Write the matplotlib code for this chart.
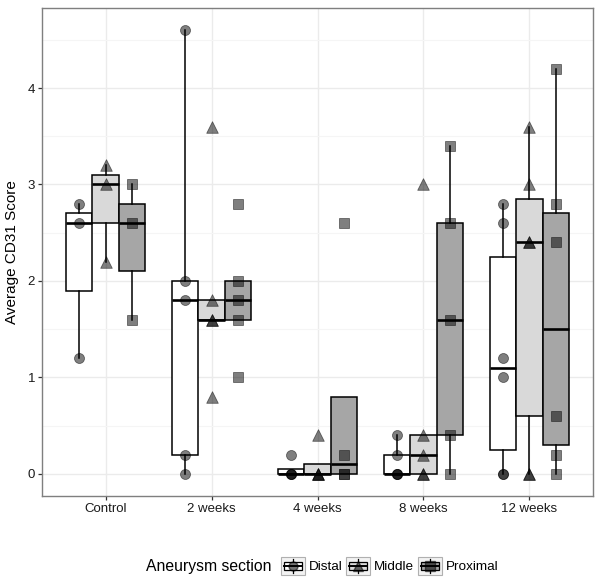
import numpy as np
import matplotlib
matplotlib.use("Agg")
import matplotlib.pyplot as plt
from matplotlib.patches import Rectangle
from matplotlib.lines import Line2D
from matplotlib.legend_handler import HandlerBase

plt.rcParams['font.family'] = ['Liberation Sans', 'DejaVu Sans']

weeks = ["Control", "2 weeks", "4 weeks", "8 weeks", "12 weeks"]
sections = ["Distal", "Middle", "Proximal"]

# scores per time point
distal = [[1.2, 2.6, 2.8],
          [0.0, 0.2, 1.8, 2.0, 4.6],
          [0.0, 0.0, 0.0, 0.2],
          [0.0, 0.0, 0.0, 0.2, 0.4],
          [0.0, 0.0, 1.0, 1.2, 2.6, 2.8]]
middle = [[2.2, 3.0, 3.2],
          [0.8, 1.6, 1.6, 1.8, 3.6],
          [0.0, 0.0, 0.0, 0.4],
          [0.0, 0.0, 0.2, 0.4, 3.0],
          [0.0, 0.0, 2.4, 2.4, 3.0, 3.6]]
proximal = [[1.6, 2.6, 3.0],
            [1.0, 1.6, 1.8, 2.0, 2.8],
            [0.0, 0.0, 0.2, 2.6],
            [0.0, 0.4, 1.6, 2.6, 3.4],
            [0.0, 0.2, 0.6, 2.4, 2.8, 4.2]]

fills = ['#ffffff', '#d9d9d9', '#a6a6a6']
markers = ['o', '^', 's']
markerSizes = [52, 70, 42]
offsets = [-0.25, 0.0, 0.25]


class BoxKey:
    def __init__(self, fill, marker):
        self.fill = fill
        self.marker = marker


class BoxKeyHandler(HandlerBase):
    def create_artists(self, legend, orig_handle, xdescent, ydescent,
                       width, height, fontsize, trans):
        x0, y0 = -xdescent, -ydescent
        cx, cy = x0 + width / 2, y0 + height / 2
        bg = Rectangle((x0, y0), width, height, facecolor='#f2f2f2',
                       edgecolor='#b0b0b0', lw=0.8, transform=trans)
        wl = Line2D([cx, cx], [y0 + 1.5, y0 + height - 1.5], color='k',
                    lw=0.9, transform=trans)
        box = Rectangle((x0 + width * 0.12, y0 + height * 0.27), width * 0.76,
                        height * 0.46, facecolor=orig_handle.fill,
                        edgecolor='k', lw=0.9, transform=trans)
        med = Line2D([x0 + width * 0.12, x0 + width * 0.88], [cy, cy],
                     color='k', lw=1.4, transform=trans)
        pt = Line2D([cx], [cy], marker=orig_handle.marker, ms=6.5, color='k',
                    alpha=0.55, ls='none', transform=trans)
        return [bg, wl, box, med, pt]


fig = plt.figure(figsize=(6.01, 5.86), dpi=100)
ax = fig.add_axes([42 / 601, 1 - 496 / 586, 551 / 601, 488 / 586])

xs = np.arange(1, len(weeks) + 1)
allData = [distal, middle, proximal]

for k, data in enumerate(allData):
    pos = xs + offsets[k]
    ax.boxplot(data, positions=pos, widths=0.25, showcaps=False,
               showfliers=False, patch_artist=True, manage_ticks=False,
               boxprops=dict(facecolor=fills[k], edgecolor='k', lw=1.1),
               whiskerprops=dict(color='k', lw=1.1),
               medianprops=dict(color='k', lw=1.9),
               zorder=2)

for k, data in enumerate(allData):
    for i, vals in enumerate(data):
        ax.scatter(np.full(len(vals), xs[i] + offsets[k]), vals,
                   marker=markers[k], s=markerSizes[k], color='k',
                   alpha=0.5, linewidths=0.6, zorder=3)

ax.set_xlim(0.4, 5.6)
ax.set_ylim(-0.23, 4.83)
ax.set_xticks(xs)
ax.set_xticklabels(weeks)
ax.set_yticks([0, 1, 2, 3, 4])
ax.set_yticks([0.5, 1.5, 2.5, 3.5, 4.5], minor=True)
ax.grid(which='major', color='#ebebeb', lw=1.0, zorder=0)
ax.grid(which='minor', axis='y', color='#f5f5f5', lw=0.8, zorder=0)
ax.set_axisbelow(True)
ax.tick_params(which='major', length=3, width=0.9, color='#333333',
               labelsize=9.5, labelcolor='#1a1a1a', pad=2)
ax.tick_params(which='minor', length=0)
for sp in ax.spines.values():
    sp.set_color('#7f7f7f')
    sp.set_linewidth(1.0)
ax.set_ylabel("Average CD31 Score", fontsize=11, labelpad=6)

fig.text(272 / 601, 1 - 566 / 586, "Aneurysm section", fontsize=11.3,
         ha='right', va='center')
handles = [BoxKey(fills[k], markers[k]) for k in range(3)]
fig.legend(handles, sections, handler_map={BoxKey: BoxKeyHandler()},
           loc='center left', bbox_to_anchor=(281 / 601, 1 - 566 / 586),
           ncol=3, frameon=False, fontsize=9.7, handlelength=1.75,
           handleheight=1.75, handletextpad=0.3, columnspacing=0.3,
           borderpad=0, borderaxespad=0)

fig.savefig("out.png", dpi=100)
